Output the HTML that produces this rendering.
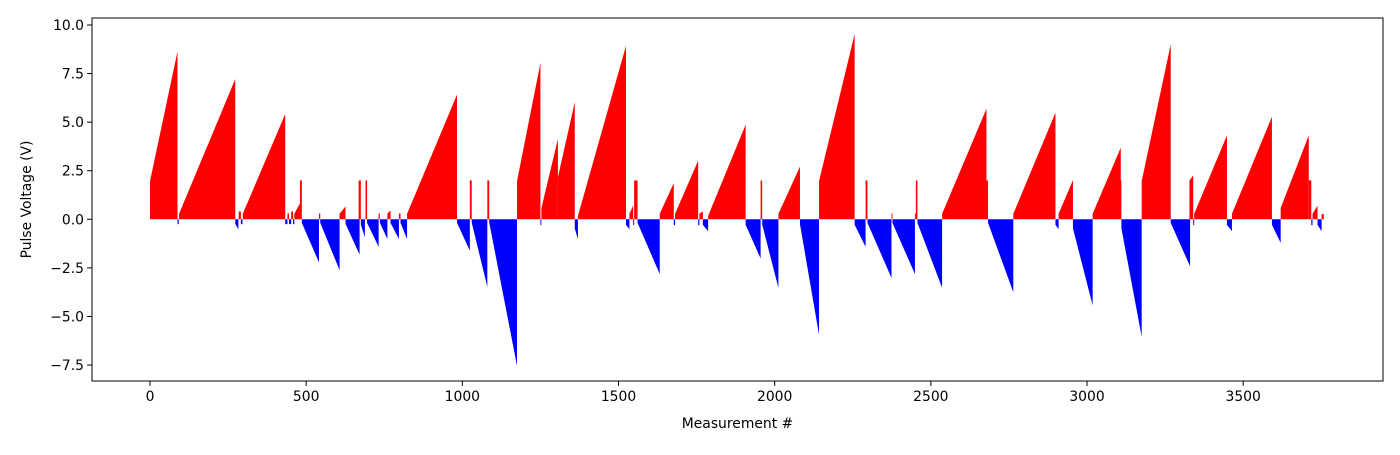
<!DOCTYPE html>
<html><head><meta charset="utf-8"><style>
html,body{margin:0;padding:0;background:#fff;}
svg text{font-family:"DejaVu Sans","Liberation Sans",sans-serif;font-size:13.9px;fill:#000;}
</style></head><body>
<svg id="chart" width="1400" height="450" xmlns="http://www.w3.org/2000/svg">
<g id="bars"></g>
<g id="axes"></g>
</svg>
<script>
const segStart=[0,88,93,273,284,291,297,433,440,445,452,458,462,480,486,541,545,607,626,668,675,690,695,732,736,760,770,797,802,823,983,1024,1030,1080,1086,1175,1250,1253,1306,1360,1370,1524,1535,1547,1550,1561,1632,1677,1681,1755,1759,1770,1787,1907,1955,1960,2012,2081,2142,2256,2291,2297,2374,2377,2449,2452,2457,2536,2678,2683,2764,2899,2909,2955,3018,3104,3110,3175,3268,3328,3340,3343,3448,3464,3592,3620,3710,3718,3722,3738,3751];
const segEnd=[88,92,273,283,291,296,433,440,445,452,458,462,480,486,541,545,607,626,671,675,688,695,732,736,760,770,797,802,823,983,1024,1030,1080,1086,1175,1250,1253,1306,1360,1370,1524,1535,1547,1550,1561,1632,1677,1681,1755,1759,1770,1787,1907,1955,1960,2012,2081,2142,2256,2291,2297,2374,2377,2449,2452,2457,2536,2678,2683,2764,2899,2909,2955,3018,3108,3110,3175,3268,3330,3340,3343,3448,3464,3592,3620,3710,3718,3722,3738,3751,3758];
const segFrom=[2.0,-0.25,0.3,-0.25,0.4,-0.25,0.3,-0.25,0.3,-0.25,0.4,-0.25,0.3,2.0,-0.2,0.3,-0.2,0.3,-0.25,2.0,-0.3,2.0,-0.2,0.3,-0.2,0.3,-0.2,0.3,-0.2,0.3,-0.2,2.0,-0.2,2.0,-0.2,2.0,-0.3,0.6,2.2,-0.5,0.2,-0.3,0.3,-0.3,2.0,-0.2,0.3,-0.3,0.3,-0.3,0.3,-0.3,0.2,-0.3,2.0,-0.3,0.3,-0.3,2.0,-0.3,2.0,-0.2,0.3,-0.2,0.3,2.0,-0.2,0.3,2.0,-0.2,0.3,-0.3,0.3,-0.5,0.3,2.0,-0.5,2.0,-0.2,2.0,-0.3,0.3,-0.3,0.3,-0.3,0.6,2.0,-0.3,0.3,-0.3,0.27];
const segTo=[8.6,-0.25,7.2,-0.5,0.4,-0.25,5.4,-0.25,0.3,-0.25,0.4,-0.25,0.8,2.0,-2.2,0.3,-2.6,0.65,-1.8,2.0,-0.9,2.0,-1.4,0.3,-1.0,0.45,-1.0,0.3,-1.0,6.4,-1.6,2.0,-3.45,2.0,-7.5,8.0,-0.3,4.1,6.0,-1.0,8.9,-0.5,0.7,-0.3,2.0,-2.8,1.85,-0.3,3.0,-0.3,0.4,-0.6,4.85,-2.0,2.0,-3.5,2.7,-5.9,9.5,-1.4,2.0,-3.0,0.3,-2.8,0.3,2.0,-3.5,5.67,2.0,-3.73,5.47,-0.5,2.0,-4.4,3.67,2.0,-6.0,8.97,-2.4,2.25,-0.3,4.3,-0.6,5.26,-1.2,4.3,2.0,-0.3,0.68,-0.6,0.27];
const xTicks=[0,500,1000,1500,2000,2500,3000,3500];
const yTicks=[-7.5,-5.0,-2.5,0.0,2.5,5.0,7.5,10.0];
const yTickLabels=["\u22127.5","\u22125.0","\u22122.5","0.0","2.5","5.0","7.5","10.0"];

const NS="http://www.w3.org/2000/svg";
const L=92,R=1383,T=18,B=381;
function xs(m){return 150+m*0.31234;}
function ys(v){return 219.3-v*19.43;}
const bars=document.getElementById('bars');
for(let s=0;s<segStart.length;s++){
  const a=segStart[s],b=segEnd[s],f=segFrom[s],t=segTo[s];
  const n=b-a;
  let d="M"+xs(a).toFixed(2)+","+ys(0).toFixed(2);
  for(let i=0;i<n;i++){
    const v=n>1?f+(t-f)*i/(n-1):f;
    d+=" L"+xs(a+i).toFixed(2)+","+ys(v).toFixed(2)+" L"+xs(a+i+1).toFixed(2)+","+ys(v).toFixed(2);
  }
  d+=" L"+xs(b).toFixed(2)+","+ys(0).toFixed(2)+" Z";
  const p=document.createElementNS(NS,'path');
  p.setAttribute('d',d);
  p.setAttribute('fill',(f+t)>0?'#ff0000':'#0000ff');
  
  
  bars.appendChild(p);
}
const ax=document.getElementById('axes');
function el(tag,attrs,txt){const e=document.createElementNS(NS,tag);for(const k in attrs)e.setAttribute(k,attrs[k]);if(txt!==undefined)e.textContent=txt;ax.appendChild(e);return e;}
const frame=el('rect',{x:L,y:T,width:R-L,height:B-T,fill:'none',stroke:'#000','stroke-width':1});


xTicks.forEach(v=>{
  const x=xs(v);
  const tk=el('line',{x1:x,x2:x,y1:B,y2:B+4.9,stroke:'#000'});
  
  
  const lb=el('text',{x:x,y:B+20,'text-anchor':'middle'},String(v));
  
  
});
yTicks.forEach((v,i)=>{
  const y=ys(v);
  const tk=el('line',{x1:L-4.9,x2:L,y1:y,y2:y,stroke:'#000'});
  
  
  const lb=el('text',{x:L-8,y:y+5,'text-anchor':'end'},yTickLabels[i]);
  
  
});
const xt=el('text',{x:(L+R)/2,y:428,'text-anchor':'middle'},'Measurement #');


const yt=el('text',{x:0,y:0,'text-anchor':'middle',transform:'translate(31,'+((T+B)/2)+') rotate(-90)'},'Pulse Voltage (V)');


</script>
</body></html>
